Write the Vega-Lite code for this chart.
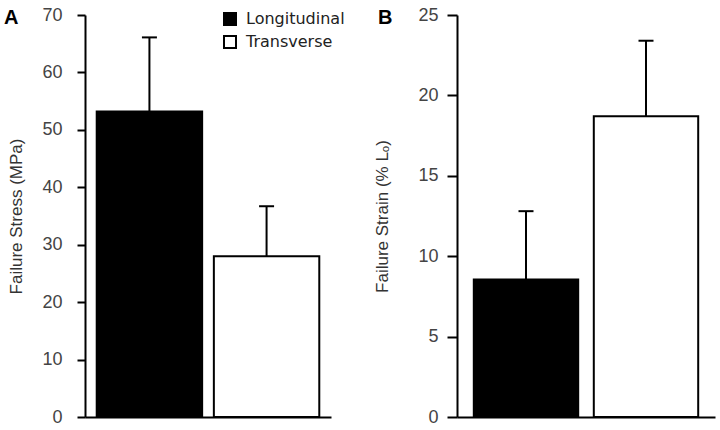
{
  "$schema": "https://vega.github.io/schema/vega-lite/v6.json",
  "padding": {"left": 4, "top": 6, "right": 4, "bottom": 5},
  "spacing": 28,
  "datasets": {
    "stress": [
      {"orientation": "Longitudinal", "mean": 53.2, "upper": 66.1},
      {"orientation": "Transverse", "mean": 28.0, "upper": 36.7}
    ],
    "strain": [
      {"orientation": "Longitudinal", "mean": 8.55, "upper": 12.8},
      {"orientation": "Transverse", "mean": 18.7, "upper": 23.4}
    ]
  },
  "config": {
    "view": {"stroke": null},
    "font": "Liberation Sans",
    "axis": {
      "grid": false,
      "domainColor": "black",
      "domainWidth": 2,
      "tickColor": "black",
      "tickWidth": 2,
      "labelFont": "Liberation Sans",
      "labelFontSize": 18,
      "labelColor": "#444",
      "titleFont": "Liberation Sans",
      "titleFontSize": 17,
      "titleFontWeight": "normal",
      "titleColor": "#333"
    }
  },
  "resolve": {"scale": {"fill": "independent"}, "legend": {"fill": "independent"}},
  "hconcat": [
    {
      "width": 246,
      "height": 402,
      "data": {"name": "stress"},
      "title": {"text": "A", "anchor": "start", "frame": "group", "fontSize": 20, "fontWeight": "bold", "font": "Liberation Sans", "color": "black", "dx": -81, "offset": -22, "baseline": "top"},
      "encoding": {
        "x": {"field": "orientation", "type": "nominal", "sort": null,
              "scale": {"paddingInner": 0.1, "paddingOuter": 0.1},
              "axis": {"title": null, "labels": false, "ticks": false, "domainWidth": 2}}
      },
      "layer": [
        {
          "mark": {"type": "rule", "strokeWidth": 2, "color": "black"},
          "encoding": {"y": {"field": "mean", "type": "quantitative"}, "y2": {"field": "upper"}}
        },
        {
          "mark": {"type": "bar", "stroke": "black", "strokeWidth": 2},
          "encoding": {
            "y": {"field": "mean", "type": "quantitative",
                  "scale": {"domain": [0, 70], "nice": false},
                  "axis": {"title": "Failure Stress (MPa)", "values": [0, 10, 20, 30, 40, 50, 60, 70], "tickSize": 8, "labelPadding": 15, "titlePadding": 16}},
            "fill": {"field": "orientation", "type": "nominal",
                     "scale": {"domain": ["Longitudinal", "Transverse"], "range": ["black", "white"]},
                     "legend": {"title": null, "orient": "none", "legendX": 137, "legendY": -4, "padding": 0,
                                "symbolType": "square", "symbolSize": 144, "symbolStrokeColor": "black", "symbolStrokeWidth": 2,
                                "labelFont": "DejaVu Sans", "labelFontSize": 16, "labelColor": "#222", "labelOffset": 8, "rowPadding": 3}}
          }
        },
        {
          "mark": {"type": "tick", "color": "black", "thickness": 2, "size": 15, "opacity": 1},
          "encoding": {"y": {"field": "upper", "type": "quantitative"}}
        }
      ]
    },
    {
      "width": 258,
      "height": 402,
      "data": {"name": "strain"},
      "title": {"text": "B", "anchor": "start", "frame": "group", "fontSize": 20, "fontWeight": "bold", "font": "Liberation Sans", "color": "black", "dx": -79, "offset": -22, "baseline": "top"},
      "encoding": {
        "x": {"field": "orientation", "type": "nominal", "sort": null,
              "scale": {"paddingInner": 0.13, "paddingOuter": 0.14},
              "axis": {"title": null, "labels": false, "ticks": false, "domainWidth": 2}}
      },
      "layer": [
        {
          "mark": {"type": "rule", "strokeWidth": 2, "color": "black"},
          "encoding": {"y": {"field": "mean", "type": "quantitative"}, "y2": {"field": "upper"}}
        },
        {
          "mark": {"type": "bar", "stroke": "black", "strokeWidth": 2},
          "encoding": {
            "y": {"field": "mean", "type": "quantitative",
                  "scale": {"domain": [0, 25], "nice": false},
                  "axis": {"title": "Failure Strain (% Lₒ)", "values": [0, 5, 10, 15, 20, 25], "tickSize": 10, "labelPadding": 9, "titlePadding": 26}},
            "fill": {"field": "orientation", "type": "nominal",
                     "scale": {"domain": ["Longitudinal", "Transverse"], "range": ["black", "white"]},
                     "legend": null}
          }
        },
        {
          "mark": {"type": "tick", "color": "black", "thickness": 2, "size": 15, "opacity": 1},
          "encoding": {"y": {"field": "upper", "type": "quantitative"}}
        }
      ]
    }
  ]
}
